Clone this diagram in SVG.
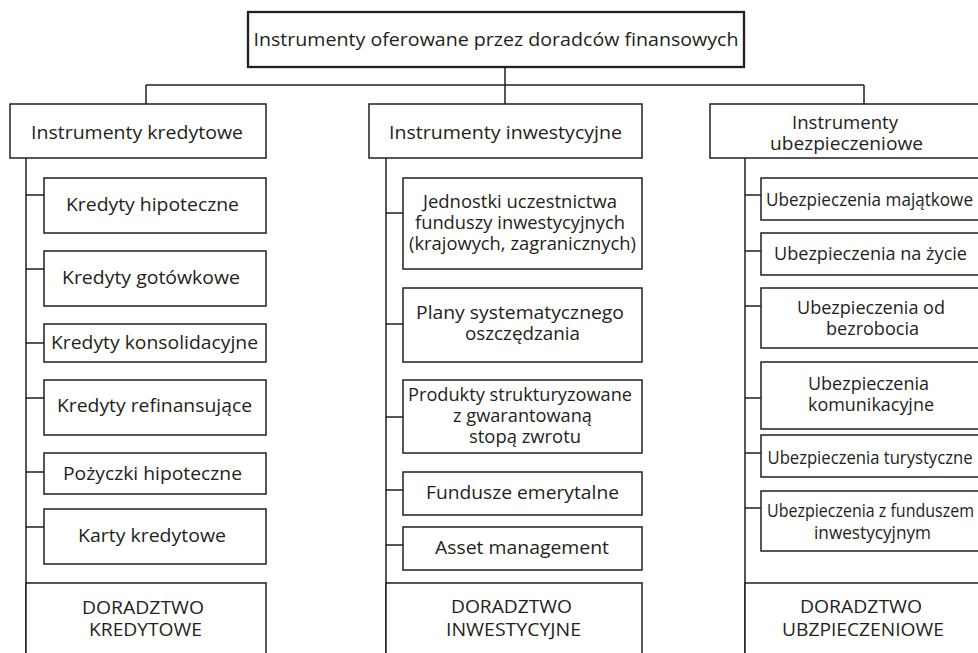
<svg xmlns="http://www.w3.org/2000/svg" width="978" height="653" viewBox="0 0 978 653">
<style>
.b{fill:#fff;stroke:#231f20;stroke-width:1.5}
.t{fill:#fff;stroke:#231f20;stroke-width:2.3}
.c{fill:none;stroke:#231f20;stroke-width:1.5}
text{font-family:"Open Sans","Noto Sans","Liberation Sans",sans-serif;font-size:18px;fill:#231f20;text-anchor:middle;dominant-baseline:central}
</style>
<rect width="978" height="653" fill="#fff"/>
<g id="connectors">
<path class="c" d="M505 67V104M146 85H864M146 85V104M864 85V104"/>
<path class="c" d="M26 158V660M26 195H44M26 269H44M26 343H44M26 398H44M26 472H44M26 527H44"/>
<path class="c" d="M386 158V660M386 213H403M386 324H403M386 417H403M386 490H403M386 545H403"/>
<path class="c" d="M745 158V660M745 195H761M745 251H761M745 306H761M745 398H761M745 453H761M745 508H761"/>
</g>
<g id="root"><rect class="t" x="248" y="12" width="496" height="55"/><text x="496" y="39" textLength="485" lengthAdjust="spacingAndGlyphs">Instrumenty oferowane przez doradców finansowych</text></g>
<g id="kredytowe"><rect class="b" x="10" y="104" width="256" height="54"/><text x="137" y="132" textLength="212" lengthAdjust="spacingAndGlyphs">Instrumenty kredytowe</text></g>
<g id="inwestycyjne"><rect class="b" x="369" y="104" width="273" height="54"/><text x="505.5" y="132" textLength="233" lengthAdjust="spacingAndGlyphs">Instrumenty inwestycyjne</text></g>
<g id="ubezpieczeniowe"><rect class="b" x="710" y="104" width="271" height="54"/><text x="845" y="122" textLength="106" lengthAdjust="spacingAndGlyphs">Instrumenty</text><text x="846.5" y="143" textLength="153" lengthAdjust="spacingAndGlyphs">ubezpieczeniowe</text></g>

<g id="k1"><rect class="b" x="44" y="178" width="222" height="55"/><text x="152.5" y="204" textLength="173" lengthAdjust="spacingAndGlyphs">Kredyty hipoteczne</text></g>
<g id="k2"><rect class="b" x="44" y="251" width="222" height="55"/><text x="151" y="277" textLength="178" lengthAdjust="spacingAndGlyphs">Kredyty gotówkowe</text></g>
<g id="k3"><rect class="b" x="44" y="324" width="222" height="38"/><text x="154.5" y="342" textLength="207" lengthAdjust="spacingAndGlyphs">Kredyty konsolidacyjne</text></g>
<g id="k4"><rect class="b" x="44" y="380" width="222" height="55"/><text x="154.5" y="405" textLength="195" lengthAdjust="spacingAndGlyphs">Kredyty refinansujące</text></g>
<g id="k5"><rect class="b" x="44" y="453" width="222" height="41"/><text x="152.5" y="473" textLength="179" lengthAdjust="spacingAndGlyphs">Pożyczki hipoteczne</text></g>
<g id="k6"><rect class="b" x="44" y="509" width="222" height="55"/><text x="152" y="535" textLength="148" lengthAdjust="spacingAndGlyphs">Karty kredytowe</text></g>
<g id="k7"><rect class="b" x="26" y="583" width="240" height="80"/><text x="143" y="607" textLength="122" lengthAdjust="spacingAndGlyphs">DORADZTWO</text><text x="145.5" y="629" textLength="113" lengthAdjust="spacingAndGlyphs">KREDYTOWE</text></g>

<g id="i1"><rect class="b" x="403" y="178" width="239" height="91"/><text x="520" y="201" textLength="194" lengthAdjust="spacingAndGlyphs">Jednostki uczestnictwa</text><text x="520" y="222" textLength="210" lengthAdjust="spacingAndGlyphs">funduszy inwestycyjnych</text><text x="522.5" y="243" textLength="227" lengthAdjust="spacingAndGlyphs">(krajowych, zagranicznych)</text></g>
<g id="i2"><rect class="b" x="403" y="288" width="239" height="74"/><text x="520" y="312" textLength="208" lengthAdjust="spacingAndGlyphs">Plany systematycznego</text><text x="522.5" y="333" textLength="115" lengthAdjust="spacingAndGlyphs">oszczędzania</text></g>
<g id="i3"><rect class="b" x="403" y="380" width="239" height="73"/><text x="520" y="394" textLength="224" lengthAdjust="spacingAndGlyphs">Produkty strukturyzowane</text><text x="522.5" y="415" textLength="139" lengthAdjust="spacingAndGlyphs">z gwarantowaną</text><text x="525" y="436" textLength="112" lengthAdjust="spacingAndGlyphs">stopą zwrotu</text></g>
<g id="i4"><rect class="b" x="403" y="472" width="239" height="43"/><text x="522.5" y="492" textLength="193" lengthAdjust="spacingAndGlyphs">Fundusze emerytalne</text></g>
<g id="i5"><rect class="b" x="403" y="527" width="239" height="43"/><text x="522" y="547" textLength="174" lengthAdjust="spacingAndGlyphs">Asset management</text></g>
<g id="i6"><rect class="b" x="386" y="583" width="256" height="80"/><text x="511.5" y="606" textLength="121" lengthAdjust="spacingAndGlyphs">DORADZTWO</text><text x="513.5" y="629" textLength="135" lengthAdjust="spacingAndGlyphs">INWESTYCYJNE</text></g>

<g id="u1"><rect class="b" x="761" y="178" width="220" height="42"/><text x="869.5" y="199" textLength="207" lengthAdjust="spacingAndGlyphs">Ubezpieczenia majątkowe</text></g>
<g id="u2"><rect class="b" x="761" y="233" width="220" height="42"/><text x="870.5" y="253" textLength="193" lengthAdjust="spacingAndGlyphs">Ubezpieczenia na życie</text></g>
<g id="u3"><rect class="b" x="761" y="288" width="220" height="60"/><text x="871" y="307" textLength="148" lengthAdjust="spacingAndGlyphs">Ubezpieczenia od</text><text x="872.5" y="328" textLength="93" lengthAdjust="spacingAndGlyphs">bezrobocia</text></g>
<g id="u4"><rect class="b" x="761" y="362" width="220" height="67"/><text x="868.5" y="383" textLength="121" lengthAdjust="spacingAndGlyphs">Ubezpieczenia</text><text x="871" y="404" textLength="126" lengthAdjust="spacingAndGlyphs">komunikacyjne</text></g>
<g id="u5"><rect class="b" x="761" y="435" width="220" height="42"/><text x="870" y="457" textLength="205" lengthAdjust="spacingAndGlyphs">Ubezpieczenia turystyczne</text></g>
<g id="u6"><rect class="b" x="761" y="491" width="220" height="60"/><text x="870.5" y="510" textLength="207" lengthAdjust="spacingAndGlyphs">Ubezpieczenia z funduszem</text><text x="872.5" y="532" textLength="117" lengthAdjust="spacingAndGlyphs">inwestycyjnym</text></g>
<g id="u7"><rect class="b" x="745" y="583" width="236" height="80"/><text x="861" y="606" textLength="122" lengthAdjust="spacingAndGlyphs">DORADZTWO</text><text x="863" y="629" textLength="162" lengthAdjust="spacingAndGlyphs">UBZPIECZENIOWE</text></g>
</svg>
